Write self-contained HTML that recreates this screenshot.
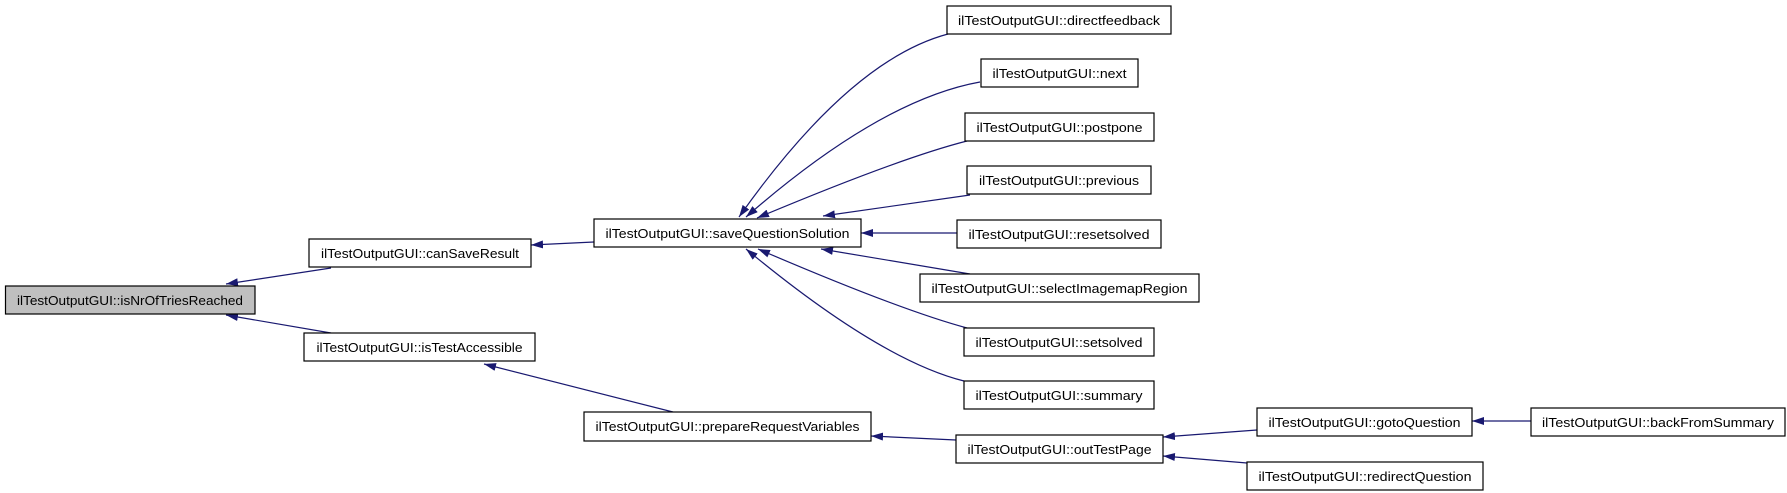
<!DOCTYPE html>
<html><head><meta charset="utf-8"><style>
html,body{margin:0;padding:0;background:#fff;}
svg{display:block;}
text{font-family:"Liberation Sans","DejaVu Sans",sans-serif;font-size:13px;fill:#000;}
</style></head><body>
<svg width="1787" height="493" viewBox="0 0 1787 493" xmlns="http://www.w3.org/2000/svg">
<defs>
<marker id="a" viewBox="0 0 12 8" refX="12" refY="4" markerWidth="12" markerHeight="8" markerUnits="userSpaceOnUse" orient="auto">
<path d="M0,0 L12,4 L0,8 z" fill="#191970"/>
</marker>
</defs>
<g fill="none" stroke="#191970" stroke-width="1.2" marker-end="url(#a)">
<path d="M331,268 L226,284"/>
<path d="M331,333 L226,315"/>
<path d="M594,242 L531,245"/>
<path d="M673,412 L484,364"/>
<path d="M956,440 L871,436"/>
<path d="M1257,430 L1163,437"/>
<path d="M1247,463 L1163,456"/>
<path d="M1531,421 L1472,421"/>
<path d="M948,34 Q850,60 739,217"/>
<path d="M980,82 Q880,100 746,217"/>
<path d="M967,141 Q900,158 757,218"/>
<path d="M970,195 L823,216"/>
<path d="M957,233 L861,233"/>
<path d="M970,274 L821,249"/>
<path d="M967,328 Q900,310 758,249"/>
<path d="M964,381 Q880,360 746,249"/>
</g>
<g stroke="#000" stroke-width="1.2">
<rect x="5.5" y="286" width="249.5" height="28" fill="#bfbfbf"/>
<rect x="309" y="239" width="222" height="28" fill="#fff"/>
<rect x="304" y="333" width="231" height="28" fill="#fff"/>
<rect x="594" y="219" width="267" height="28" fill="#fff"/>
<rect x="584" y="412" width="287" height="29" fill="#fff"/>
<rect x="947" y="6" width="224" height="28" fill="#fff"/>
<rect x="981" y="59" width="157" height="28" fill="#fff"/>
<rect x="965" y="113" width="189" height="28" fill="#fff"/>
<rect x="967" y="166" width="184" height="28" fill="#fff"/>
<rect x="957" y="220" width="204" height="28" fill="#fff"/>
<rect x="920" y="274" width="279" height="28" fill="#fff"/>
<rect x="964" y="328" width="190" height="28" fill="#fff"/>
<rect x="964" y="381" width="190" height="28" fill="#fff"/>
<rect x="956" y="435" width="207" height="28" fill="#fff"/>
<rect x="1257" y="408" width="215" height="28" fill="#fff"/>
<rect x="1247" y="462" width="236" height="28" fill="#fff"/>
<rect x="1531" y="408" width="254" height="28" fill="#fff"/>
</g>
<g text-anchor="middle">
<text x="130" y="305" textLength="226" lengthAdjust="spacingAndGlyphs">ilTestOutputGUI::isNrOfTriesReached</text>
<text x="420" y="258" textLength="198" lengthAdjust="spacingAndGlyphs">ilTestOutputGUI::canSaveResult</text>
<text x="419.5" y="352" textLength="206" lengthAdjust="spacingAndGlyphs">ilTestOutputGUI::isTestAccessible</text>
<text x="727.5" y="238" textLength="244" lengthAdjust="spacingAndGlyphs">ilTestOutputGUI::saveQuestionSolution</text>
<text x="727.5" y="431" textLength="264" lengthAdjust="spacingAndGlyphs">ilTestOutputGUI::prepareRequestVariables</text>
<text x="1059" y="25" textLength="202" lengthAdjust="spacingAndGlyphs">ilTestOutputGUI::directfeedback</text>
<text x="1059.5" y="78" textLength="134" lengthAdjust="spacingAndGlyphs">ilTestOutputGUI::next</text>
<text x="1059.5" y="132" textLength="166" lengthAdjust="spacingAndGlyphs">ilTestOutputGUI::postpone</text>
<text x="1059" y="185" textLength="160" lengthAdjust="spacingAndGlyphs">ilTestOutputGUI::previous</text>
<text x="1059" y="239" textLength="181" lengthAdjust="spacingAndGlyphs">ilTestOutputGUI::resetsolved</text>
<text x="1059.5" y="293" textLength="256" lengthAdjust="spacingAndGlyphs">ilTestOutputGUI::selectImagemapRegion</text>
<text x="1059" y="347" textLength="167" lengthAdjust="spacingAndGlyphs">ilTestOutputGUI::setsolved</text>
<text x="1059" y="400" textLength="167" lengthAdjust="spacingAndGlyphs">ilTestOutputGUI::summary</text>
<text x="1059.5" y="454" textLength="184" lengthAdjust="spacingAndGlyphs">ilTestOutputGUI::outTestPage</text>
<text x="1364.5" y="427" textLength="192" lengthAdjust="spacingAndGlyphs">ilTestOutputGUI::gotoQuestion</text>
<text x="1365" y="481" textLength="213" lengthAdjust="spacingAndGlyphs">ilTestOutputGUI::redirectQuestion</text>
<text x="1658" y="427" textLength="232" lengthAdjust="spacingAndGlyphs">ilTestOutputGUI::backFromSummary</text>
</g>
</svg>
</body></html>
